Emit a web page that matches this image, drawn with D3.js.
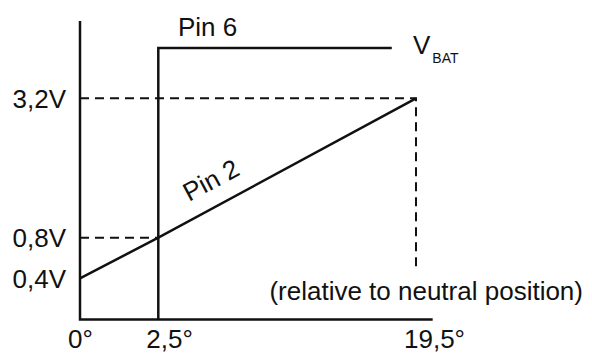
<!DOCTYPE html>
<html>
<head>
<meta charset="utf-8">
<script src="https://cdn.jsdelivr.net/npm/d3@7"></script>
<style>
  body { margin: 0; background: #fff; }
  text { font-family: "Liberation Sans", Arial, Helvetica, sans-serif; fill: #111; }
</style>
</head>
<body>
<div id="chart"></div>
<script>
// values (schematic, so the scales are piecewise)
var xTicks = [0, 2.5, 19.5];
var xTickLabels = ["0°", "2,5°", "19,5°"];
var yTicks = [0.4, 0.8, 3.2];
var yTickLabels = ["0,4V", "0,8V", "3,2V"];
var vbat = 4.0;        // nominal level for the V_BAT plateau
var xMax = 20.6;       // end of the angle axis
var yMax = 4.43;       // top of the voltage axis

var pin2Angle = [0, 2.5, 19.5];
var pin2Volt = [0.4, 0.8, 3.2];
var pin6Angle = [2.5, 2.5, 17.9];
var pin6Volt = [0, vbat, vbat];

// dashed guides
var guide32Angle = [0, 19.5, 19.5];
var guide32Volt = [3.2, 3.2, 0.48];
var guide08Angle = [0, 2.5];
var guide08Volt = [0.8, 0.8];

var width = 592, height = 354;
var fs = 26;

var svg = d3.select("#chart").append("svg")
    .attr("width", width)
    .attr("height", height);

//piecewise scales, the drawing is not to scale
var x = d3.scaleLinear()
    .domain([0, 2.5, 19.5])
    .range([80, 158.3, 416]);

var y = d3.scaleLinear()
    .domain([0, 0.4, 0.8, 3.2, vbat])
    .range([319.5, 278.3, 237.7, 98.3, 48]);

var line = d3.line()
    .x(d => x(d[0]))
    .y(d => y(d[1]));

var zip = (a, b) => a.map((v, i) => [v, b[i]]);

// dashed guide lines
svg.append("path")
    .attr("d", line(zip(guide32Angle, guide32Volt)))
    .attr("fill", "none")
    .attr("stroke", "#111")
    .attr("stroke-width", 2)
    .attr("stroke-dasharray", "9,6");

svg.append("path")
    .attr("d", line(zip(guide08Angle, guide08Volt)))
    .attr("fill", "none")
    .attr("stroke", "#111")
    .attr("stroke-width", 2)
    .attr("stroke-dasharray", "9,6");

// axes
svg.append("path")
    .attr("d", line([[0, yMax], [0, 0], [xMax, 0]]))
    .attr("fill", "none")
    .attr("stroke", "#111")
    .attr("stroke-width", 2.5);

// pin 6 and pin 2 curves
svg.append("path")
    .attr("d", line(zip(pin6Angle, pin6Volt)))
    .attr("fill", "none")
    .attr("stroke", "#111")
    .attr("stroke-width", 2.5);

svg.append("path")
    .attr("d", line(zip(pin2Angle, pin2Volt)))
    .attr("fill", "none")
    .attr("stroke", "#111")
    .attr("stroke-width", 2.5);

// tick labels
svg.selectAll(".ylab")
    .data(yTicks)
    .enter().append("text")
    .attr("class", "ylab")
    .attr("x", 66)
    .attr("y", d => y(d))
    .attr("dy", "0.36em")
    .attr("text-anchor", "end")
    .attr("font-size", fs)
    .text((d, i) => yTickLabels[i]);

svg.selectAll(".xlab")
    .data(xTicks)
    .enter().append("text")
    .attr("class", "xlab")
    .attr("x", d => x(d) - 12)
    .attr("y", 348)
    .attr("font-size", fs)
    .text((d, i) => xTickLabels[i]);

// annotations
svg.append("text")
    .attr("x", 178)
    .attr("y", 36)
    .attr("font-size", fs)
    .text("Pin 6");

var vb = svg.append("text")
    .attr("x", 413)
    .attr("y", 54)
    .attr("font-size", fs);
vb.append("tspan").text("V");
vb.append("tspan")
    .attr("dx", 2)
    .attr("dy", 9)
    .attr("font-size", 14)
    .text("BAT");

svg.append("text")
    .attr("transform", "translate(189,202) rotate(-28)")
    .attr("font-size", fs)
    .text("Pin 2");

svg.append("text")
    .attr("x", 583)
    .attr("y", 300)
    .attr("text-anchor", "end")
    .attr("font-size", fs)
    .text("(relative to neutral position)");
</script>
</body>
</html>
